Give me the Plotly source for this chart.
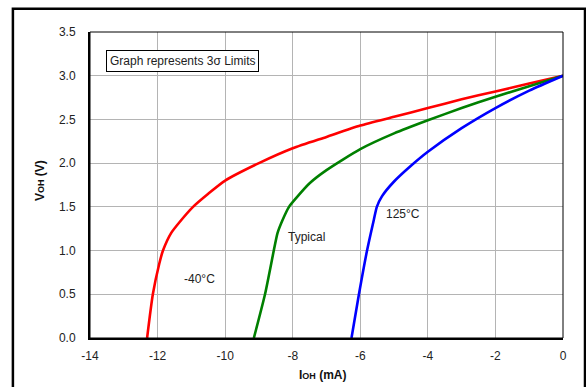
import plotly.graph_objects as go

# IOH (mA) / VOH (V) readings per temperature
ioh_cold = [-12.31, -12.14, -11.95, -11.84, -11.6, -11.34, -10.95, -10.5, -10.0, -9.0, -8.0, -7.0, -6.0, -5.0, -4.0, -3.0, -2.0, -1.0, 0.0]
voh_cold = [0.0, 0.5, 0.85, 1.0, 1.2, 1.33, 1.5, 1.65, 1.8, 2.0, 2.17, 2.3, 2.43, 2.53, 2.63, 2.73, 2.82, 2.91, 3.0]

ioh_typ = [-9.15, -8.82, -8.56, -8.45, -8.3, -8.11, -7.9, -7.5, -7.0, -6.0, -5.0, -4.0, -3.0, -2.0, -1.0, 0.0]
voh_typ = [0.0, 0.5, 1.0, 1.2, 1.35, 1.5, 1.6, 1.77, 1.92, 2.16, 2.34, 2.49, 2.63, 2.76, 2.88, 3.0]

ioh_hot = [-6.26, -6.04, -5.8, -5.6, -5.51, -5.36, -5.0, -4.5, -4.0, -3.0, -2.0, -1.0, 0.0]
voh_hot = [0.0, 0.5, 1.0, 1.35, 1.5, 1.62, 1.79, 1.97, 2.13, 2.4, 2.63, 2.83, 3.0]

x_ticks = [-14, -12, -10, -8, -6, -4, -2, 0]
x_labels = ["-14", "-12", "-10", "-8", "-6", "-4", "-2", "0"]
y_ticks = [0.0, 0.5, 1.0, 1.5, 2.0, 2.5, 3.0, 3.5]

fig = go.Figure()
for xs, ys, col in [(ioh_cold, voh_cold, "#ff0000"),
                    (ioh_typ, voh_typ, "#008000"),
                    (ioh_hot, voh_hot, "#0000ff")]:
    fig.add_trace(go.Scatter(x=xs, y=ys, mode="lines",
                             line=dict(color=col, width=2.6, shape="spline", smoothing=0.6),
                             showlegend=False, hoverinfo="skip"))

font = dict(family="Liberation Sans, Arial, sans-serif", size=12, color="#222222")
title_font = dict(family="Liberation Sans, Arial, sans-serif", size=12, color="#111111")

fig.add_annotation(x=-11.25, y=3.17, text="Graph represents 3σ Limits", showarrow=False,
                   font=font, bordercolor="black", borderwidth=1, borderpad=3, bgcolor="white")
fig.add_annotation(x=-10.75, y=0.67, text="-40°C", showarrow=False, font=font)
fig.add_annotation(x=-7.6, y=1.16, text="Typical", showarrow=False, font=font)
fig.add_annotation(x=-4.74, y=1.42, text="125°C", showarrow=False, font=font)

# axis titles placed as paper annotations so the plot area stays fixed
fig.add_annotation(xref="paper", yref="paper", x=0.493, y=-0.15, showarrow=False,
                   text="<b>I<span style='font-size:9px'>OH</span> (mA)</b>", font=title_font)
fig.add_annotation(xref="paper", yref="paper", x=-0.125, y=0.516, showarrow=False, textangle=-90,
                   text="<b>V<span style='font-size:9px'>OH</span> (V)</b>", font=title_font)

# outer frame around the whole figure, plus thin plot-area box
fig.add_shape(type="rect", xref="paper", yref="paper", x0=-0.163, x1=1.0465, y0=-0.2, y1=1.076,
              line=dict(color="black", width=2.5), layer="above")
fig.add_shape(type="rect", xref="paper", yref="paper", x0=0, x1=1, y0=0, y1=1,
              line=dict(color="black", width=1), layer="above")

fig.update_layout(
    width=586, height=387,
    margin=dict(l=90, r=23, t=32, b=49),
    plot_bgcolor="white", paper_bgcolor="white",
    font=font,
    xaxis=dict(range=[-14, 0], tickvals=x_ticks, ticktext=x_labels, ticks="", ticklabelstandoff=6,
               showgrid=True, gridcolor="#b4b4b4", automargin=False,
               gridwidth=1, zeroline=False, showline=True, linecolor="black", linewidth=2),
    yaxis=dict(range=[0, 3.5], tickvals=y_ticks, tickformat=".1f", ticks="", ticklabelstandoff=10,
               showgrid=True, automargin=False,
               gridcolor="#b4b4b4", gridwidth=1, zeroline=False, showline=True, linecolor="black",
               linewidth=2),
)

fig.write_html("out.html", config={"displayModeBar": False},
               post_script="document.body.style.margin='0';")
